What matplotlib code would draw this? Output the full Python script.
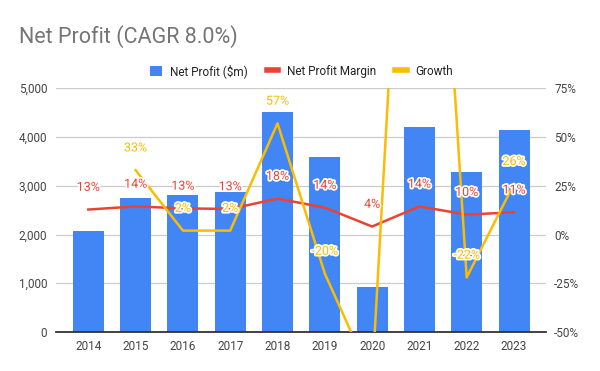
import matplotlib
matplotlib.use("Agg")
import matplotlib.pyplot as plt
import matplotlib.patheffects as pe
from matplotlib.patches import Patch
from matplotlib.lines import Line2D
import numpy as np

plt.rcParams['font.family'] = ['Roboto', 'DejaVu Sans']

years = ['2014', '2015', '2016', '2017', '2018', '2019', '2020', '2021', '2022', '2023']
net_profit = [2070, 2750, 2810, 2870, 4510, 3590, 920, 4200, 3290, 4140]
margin = [0.128, 0.144, 0.134, 0.131, 0.184, 0.138, 0.041, 0.144, 0.102, 0.114]
growth = [np.nan, 0.33, 0.02, 0.02, 0.57, -0.20, -0.74, 3.57, -0.22, 0.26]

BLUE = '#4285F4'
RED = '#EA4335'
YELLOW = '#FBBC04'

fig = plt.figure(figsize=(6, 3.71), dpi=100)
ax = fig.add_axes([0.0928, 0.1051, 0.8167, 0.657])
ax2 = ax.twinx()

x = np.arange(len(years))
ax.bar(x, net_profit, width=0.655, color=BLUE, zorder=2)
ax.set_xlim(-0.69, 9.67)
ax.set_ylim(0, 5000)
ax.set_yticks([0, 1000, 2000, 3000, 4000, 5000])
ax.set_yticklabels(['0', '1,000', '2,000', '3,000', '4,000', '5,000'])
ax.set_xticks(x)
ax.set_xticklabels(years)
ax.grid(axis='y', color='#cccccc', linewidth=0.9, zorder=0)
ax.set_axisbelow(True)

for a in (ax, ax2):
    for s in ('top', 'left', 'right'):
        a.spines[s].set_visible(False)
    a.spines['bottom'].set_visible(False)
    a.tick_params(length=0, labelsize=8.5, colors='#444444', pad=6)
ax.axhline(0, color='#333333', linewidth=1.3, zorder=5, clip_on=False)

ax2.set_ylim(-0.5, 0.75)
ax2.set_yticks([-0.5, -0.25, 0, 0.25, 0.5, 0.75])
ax2.set_yticklabels(['-50%', '-25%', '0%', '25%', '50%', '75%'])

ax2.plot(x, margin, color=RED, linewidth=1.8, zorder=3)
ax2.plot(x, growth, color=YELLOW, linewidth=1.8, zorder=3)

halo = [pe.withStroke(linewidth=2.5, foreground='white')]
lo, hi = ax2.get_ylim()
for xi, v in zip(x, margin):
    ax2.annotate(f'{v*100:.0f}%', (xi, v), xytext=(0, 16), textcoords='offset points',
                 ha='center', va='center', fontsize=9, color=RED, path_effects=halo, zorder=6)
for xi, v in zip(x, growth):
    if np.isnan(v) or v < lo or v > hi:
        continue
    ax2.annotate(f'{v*100:.0f}%', (xi, v), xytext=(0, 16), textcoords='offset points',
                 ha='center', va='center', fontsize=9, color=YELLOW, path_effects=halo, zorder=6)

fig.text(19 / 600, 1 - 36.5 / 371, 'Net Profit (CAGR 8.0%)', fontsize=15.5, color='#757575',
         va='center', ha='left')

handles = [Patch(facecolor=BLUE, edgecolor='none'),
           Line2D([0], [0], color=RED, linewidth=4),
           Line2D([0], [0], color=YELLOW, linewidth=4)]
fig.legend(handles, ['Net Profit ($m)', 'Net Profit Margin', 'Growth'], loc='center',
           bbox_to_anchor=(0.502, 1 - 71 / 371), ncol=3, frameon=False, fontsize=8.5,
           handlelength=1.0, handleheight=1.0, handletextpad=0.7, columnspacing=1.6,
           labelcolor='#222222')

fig.savefig('out.png', dpi=100)
